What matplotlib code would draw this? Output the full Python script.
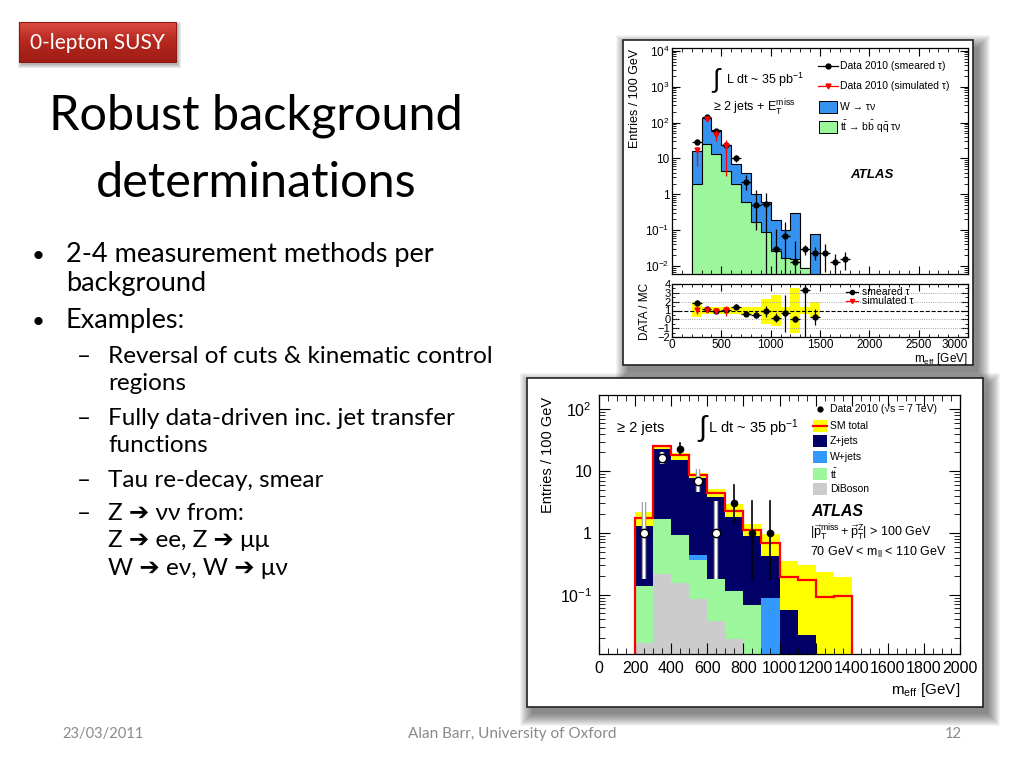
import numpy as np
import matplotlib
matplotlib.use('Agg')
import matplotlib.pyplot as plt
from matplotlib.patches import Rectangle
from matplotlib.colors import LinearSegmentedColormap
from matplotlib.ticker import MultipleLocator, LogLocator, NullFormatter

plt.rcParams['font.family'] = ['Liberation Sans', 'DejaVu Sans']
plt.rcParams['mathtext.fontset'] = 'custom'
plt.rcParams['mathtext.rm'] = 'Liberation Sans'
plt.rcParams['mathtext.it'] = 'Liberation Sans:italic'
plt.rcParams['mathtext.bf'] = 'Liberation Sans:bold'

SLIDE_FONT = ['Lato', 'DejaVu Sans']
W_PX, H_PX = 1024, 768

# ---------------- top plot : tau backgrounds ----------------
tau_edges = [200, 300, 400, 500, 600, 700, 800, 900, 1000, 1100, 1200, 1300, 1400, 1500]
tau_ttbar = [2.0, 26, 13, 4.6, 1.9, 0.6, 0.17, 0.088, 0.026, 0.017, 0.016, 0.009, 0]
tau_wjets = [14, 112, 49, 19.4, 5.1, 3.4, 0.83, 0.51, 0.17, 0.083, 0.28, 0, 0.08]

smear_x = [250, 350, 450, 550, 650, 750, 850, 950, 1050, 1150, 1250, 1350, 1450, 1550, 1650, 1750]
smear_y = [29, 140, 58, 24, 10, 2.2, 0.5, 0.55, 0.03, 0.07, 0.013, 0.03, 0.023, 0.023, 0.013, 0.016]
smear_lo = [24, 128, 50, 20, 8, 1.3, 0.1, 0.001, 0.001, 0.006, 0.001, 0.02, 0.015, 0.007, 0.004, 0.008]
smear_hi = [35, 152, 66, 29, 12.5, 3.4, 1.3, 1.1, 0.11, 0.17, 0.05, 0.038, 0.034, 0.04, 0.022, 0.024]

simul_x = [250, 350, 450, 550]
simul_y = [17, 128, 45, 22]
simul_lo = [6, 115, 30, 3.2]
simul_hi = [21, 140, 62, 32]

ratio_x = [250, 350, 450, 550, 650, 750, 850, 950, 1050, 1150, 1250, 1350, 1450]
ratio_y = [1.9, 1.15, 1.0, 1.1, 1.45, 0.6, 0.5, 0.9, 0.2, 0.7, 0.05, 3.3, 0.3]
ratio_lo = [1.6, 0.95, 0.8, 0.9, 1.2, 0.5, 0.2, 0.3, -0.3, -1.4, -0.25, -2.0, -0.6]
ratio_hi = [2.2, 1.35, 1.2, 1.3, 1.7, 0.7, 0.8, 1.5, 0.7, 2.7, 0.35, 4.0, 1.2]
sim_ratio_y = [1.05, 1.1, 0.9, 1.1]
sim_ratio_lo = [0.6, 0.9, 0.7, 0.4]
sim_ratio_hi = [1.5, 1.3, 1.1, 1.5]
band_lo = [0.3, 0.6, 0.6, 0.6, 0.6, 0.65, 0.65, -0.5, -0.8, 0.6, -1.5, 0.6, 0.3]
band_hi = [2.0, 1.4, 1.4, 1.4, 1.4, 1.35, 1.35, 2.3, 2.8, 1.4, 3.6, 1.4, 2.0]
ratio_ticks = [0, 500, 1000, 1500, 2000, 2500, 3000]

# ---------------- bottom plot : Z -> ll control region ----------------
zll_edges = [200, 300, 400, 500, 600, 700, 800, 900, 1000, 1100, 1200, 1300, 1400]
zll_diboson = [0.0165, 0.22, 0.155, 0.086, 0.037, 0.019, 0, 0, 0, 0, 0, 0]
zll_ttbar = [0.12, 1.47, 0.77, 0.28, 0.14, 0.098, 0.069, 0, 0, 0, 0, 0]
zll_wjets = [0, 0, 0, 0.08, 0, 0, 0, 0.088, 0, 0, 0, 0]
zll_zjets = [1.17, 21, 14.3, 7.15, 3.6, 1.68, 0.83, 0.34, 0.056, 0.022, 0, 0]
zll_sm_total = [1.75, 25, 18, 8.5, 4.4, 2.3, 1.1, 0.69, 0.19, 0.17, 0.092, 0.094]
zll_sm_upper = [2.2, 26.5, 19.3, 9.4, 5.2, 2.9, 1.4, 0.96, 0.35, 0.30, 0.23, 0.19]

zll_data_x = [250, 350, 450, 550, 650, 750, 850, 950]
zll_data_y = [1, 16, 23, 7, 1, 3, 1, 1]
zll_data_lo = [0.18, 12.8, 18.7, 4.6, 0.18, 1.42, 0.18, 0.18]
zll_data_hi = [3.2, 20.4, 28, 10.9, 3.3, 5.9, 3.3, 3.3]
zll_open = [True, True, False, True, True, False, False, False]

# slide text
bullets = [
    (262, 0, '•', '2-4 measurement methods per'),
    (291, 0, None, 'background'),
    (328, 0, '•', 'Examples:'),
    (363, 1, '–', 'Reversal of cuts & kinematic control'),
    (390, 1, None, 'regions'),
    (425, 1, '–', 'Fully data-driven inc. jet transfer'),
    (452, 1, None, 'functions'),
    (487, 1, '–', 'Tau re-decay, smear'),
    (520, 1, '–', 'Z ➔ νν from:'),
    (547, 1, None, 'Z ➔ ee, Z ➔ μμ'),
    (575, 1, None, 'W ➔ eν, W ➔ μν'),
]

BLUE = '#3592ee'
GREEN = '#9cf79c'
NAVY = '#000066'
GREY = '#cccccc'
YELLOW = '#ffff00'


def px_axes(x0, y0, x1, y1):
    return fig.add_axes([x0 / W_PX, 1 - y1 / H_PX, (x1 - x0) / W_PX, (y1 - y0) / H_PX])


def root_ticks(ax, major=6, minor=3):
    ax.tick_params(which='both', direction='in', top=True, right=True)
    ax.tick_params(which='major', length=major, width=0.8)
    ax.tick_params(which='minor', length=minor, width=0.6)
    for s in ax.spines.values():
        s.set_linewidth(0.9)


def shadow(ax, x0, y0, x1, y1, off=(5, 7), spread=13, alpha=0.045):
    for k in range(spread):
        ax.add_patch(Rectangle((x0 + off[0] - k, y0 + off[1] - k), (x1 - x0) + 2 * k, (y1 - y0) + 2 * k,
                               facecolor='black', edgecolor='none', alpha=alpha, zorder=1))


fig = plt.figure(figsize=(10.24, 7.68), dpi=100)

# background layer in pixel coordinates
bg = fig.add_axes([0, 0, 1, 1])
bg.set_xlim(0, W_PX)
bg.set_ylim(H_PX, 0)
bg.axis('off')

shadow(bg, 623, 40, 973, 365)
bg.add_patch(Rectangle((623, 40), 350, 325, facecolor='white', edgecolor='#222222', lw=1.2, zorder=2))
shadow(bg, 527, 378, 983, 707)
bg.add_patch(Rectangle((527, 378), 456, 329, facecolor='white', edgecolor='#222222', lw=1.2, zorder=3))

# red tag
shadow(bg, 19, 22, 176, 62, off=(2, 3), spread=4, alpha=0.08)
red_cm = LinearSegmentedColormap.from_list('tag', ['#dc4b41', '#b3271e', '#a01d15'])
bg.imshow(np.linspace(0, 1, 60).reshape(-1, 1), extent=(19, 176, 62, 22), cmap=red_cm,
          aspect='auto', zorder=4)
bg.add_patch(Rectangle((19, 22), 157, 40, facecolor='none', edgecolor='#8c1a13', lw=0.8, zorder=5))
bg.text(97, 43, '0-lepton SUSY', color='white', fontsize=15, family=SLIDE_FONT,
        ha='center', va='center', zorder=6)

# title
bg.text(256, 130, 'Robust background', fontsize=35, family=SLIDE_FONT, ha='center', va='baseline')
bg.text(256, 197, 'determinations', fontsize=35, family=SLIDE_FONT, ha='center', va='baseline')

# bullets
for y, level, mark, txt in bullets:
    if level == 0:
        if mark:
            bg.text(32, y, mark, fontsize=16, family=SLIDE_FONT, va='baseline')
        bg.text(66, y, txt, fontsize=19.5, family=SLIDE_FONT, va='baseline')
    else:
        if mark:
            bg.text(77, y, mark, fontsize=17.5, family=SLIDE_FONT, va='baseline')
        bg.text(108, y, txt, fontsize=17.5, family=SLIDE_FONT, va='baseline')

# footer
bg.text(62, 738, '23/03/2011', fontsize=10.5, color='#8a8a8a', family=SLIDE_FONT, va='baseline')
bg.text(512, 738, 'Alan Barr, University of Oxford', fontsize=11, color='#8a8a8a',
        family=SLIDE_FONT, ha='center', va='baseline')
bg.text(962, 738, '12', fontsize=10.5, color='#8a8a8a', family=SLIDE_FONT, ha='right', va='baseline')

# ---------------- top plot ----------------
TY0 = 0.006
ax1 = px_axes(672, 48, 968, 274)
tt = np.array(tau_ttbar, dtype=float)
tot = tt + np.array(tau_wjets, dtype=float)
ax1.stairs(np.where(tot > 0, tot, 1e-5), tau_edges, baseline=1e-5, fill=True,
           facecolor=BLUE, edgecolor='black', lw=0.8)
ax1.stairs(np.where(tt > 0, tt, 1e-5), tau_edges, baseline=1e-5, fill=True,
           facecolor=GREEN, edgecolor='black', lw=0.8)
sy = np.array(smear_y)
ax1.errorbar(smear_x, sy, yerr=[sy - np.array(smear_lo), np.array(smear_hi) - sy], xerr=50,
             fmt='o', color='black', ms=3.5, lw=0.9, capsize=0, zorder=5)
ry = np.array(simul_y)
ax1.errorbar(simul_x, ry, yerr=[ry - np.array(simul_lo), np.array(simul_hi) - ry],
             fmt='v', color='red', ms=3.5, lw=0.9, capsize=0, zorder=6)
ax1.set_yscale('log')
ax1.set_xlim(0, 3000)
ax1.set_ylim(TY0, 1.2e4)
ax1.set_yticks([1e-2, 1e-1, 1, 10, 1e2, 1e3, 1e4])
ax1.set_yticklabels(['$10^{-2}$', '$10^{-1}$', '1', '10', '$10^{2}$', '$10^{3}$', '$10^{4}$'])
ax1.yaxis.set_minor_locator(LogLocator(subs=np.arange(2, 10)))
ax1.yaxis.set_minor_formatter(NullFormatter())
ax1.xaxis.set_major_locator(MultipleLocator(500))
ax1.xaxis.set_minor_locator(MultipleLocator(100))
ax1.set_xticklabels([])
root_ticks(ax1, 6, 3)
ax1.tick_params(axis='y', labelsize=8.5, pad=2)

ax2 = px_axes(672, 284, 968, 337)
ax2.stairs(band_hi, tau_edges, baseline=band_lo, fill=True, color=YELLOW, lw=0)
for g in [-1, 0, 2, 3]:
    ax2.axhline(g, color='#888888', ls=':', lw=0.6)
ax2.axhline(1, color='black', ls='--', lw=0.8)
q = np.array(ratio_y)
ax2.errorbar(ratio_x, q, yerr=[q - np.array(ratio_lo), np.array(ratio_hi) - q], xerr=50,
             fmt='o', color='black', ms=3.5, lw=0.9, capsize=0, zorder=5)
q2 = np.array(sim_ratio_y)
ax2.errorbar(ratio_x[:4], q2, yerr=[q2 - np.array(sim_ratio_lo), np.array(sim_ratio_hi) - q2],
             fmt='v', color='red', ms=3.5, lw=0.9, capsize=0, zorder=6)
ax2.set_xlim(0, 3000)
ax2.set_ylim(-2, 4)
ax2.set_yticks([-2, -1, 0, 1, 2, 3, 4])
ax2.set_xticks(ratio_ticks, [str(t) for t in ratio_ticks])
ax2.get_xticklabels()[-1].set_horizontalalignment('right')
ax2.xaxis.set_minor_locator(MultipleLocator(100))
ax2.yaxis.set_minor_locator(MultipleLocator(0.5))
root_ticks(ax2, 5, 2.5)
ax2.tick_params(labelsize=8.5, pad=1.5)
ax2.tick_params(axis='y', labelsize=8, pad=1)

# ---------------- bottom plot ----------------
BY0 = 0.011
ax3 = px_axes(599, 395, 960, 654)
ax3.stairs(zll_sm_upper, zll_edges, baseline=1e-4, fill=True, color=YELLOW, lw=0)
layers = np.cumsum(np.vstack([zll_diboson, zll_ttbar, zll_wjets, zll_zjets]), axis=0)
for row, col in zip(layers[::-1], [NAVY, '#3399ff', GREEN, GREY]):
    ax3.stairs(np.where(row > 0, row, 1e-5), zll_edges, baseline=1e-5, fill=True, color=col, lw=0)
ax3.stairs(zll_sm_total, zll_edges, baseline=1e-4, fill=False, color='red', lw=1.6, zorder=4)
for x, y, lo, hi, op in zip(zll_data_x, zll_data_y, zll_data_lo, zll_data_hi, zll_open):
    if op:
        ax3.plot([x, x], [lo, hi], color='#999999', lw=3.2, zorder=6, solid_capstyle='butt')
        ax3.plot([x, x], [lo, hi], color='white', lw=1.6, zorder=7, solid_capstyle='butt')
        ax3.plot(x, y, 'o', ms=6, mfc='white', mec='black', mew=1.0, zorder=8)
    else:
        ax3.plot([x, x], [lo, hi], color='black', lw=1.2, zorder=6)
        ax3.plot(x, y, 'o', ms=4.5, color='black', zorder=8)
ax3.set_yscale('log')
ax3.set_xlim(0, 2000)
ax3.set_ylim(BY0, 170)
ax3.set_yticks([0.1, 1, 10, 100])
ax3.set_yticklabels(['$10^{-1}$', '1', '10', '$10^{2}$'])
ax3.yaxis.set_minor_locator(LogLocator(subs=np.arange(2, 10)))
ax3.yaxis.set_minor_formatter(NullFormatter())
ax3.xaxis.set_major_locator(MultipleLocator(200))
ax3.xaxis.set_minor_locator(MultipleLocator(50))
root_ticks(ax3, 8, 4)
ax3.tick_params(labelsize=11.5, pad=5)

# ---------------- overlay: labels and legends in pixel coordinates ----------------
ov = fig.add_axes([0, 0, 1, 1], zorder=10)
ov.set_xlim(0, W_PX)
ov.set_ylim(H_PX, 0)
ov.axis('off')
ov.patch.set_alpha(0)

# top plot texts
ov.text(635, 49, 'Entries / 100 GeV', rotation=90, fontsize=9, ha='center', va='top')
ov.text(645, 311, 'DATA / MC', rotation=90, fontsize=8.5, ha='center', va='center')
ov.text(968, 359, r'm$_{\mathrm{eff}}$ [GeV]', fontsize=8.5, ha='right', va='center')
ov.text(716, 80, '∫', fontsize=19, ha='center', va='center')
ov.text(726, 84, r'L dt ~ 35 pb$^{\mathrm{-1}}$', fontsize=9, va='baseline')
ov.text(713, 112, r'≥ 2 jets + E$_{\mathrm{T}}^{\mathrm{miss}}$', fontsize=9, va='baseline')
ov.text(850, 175, 'ATLAS', fontsize=9.5, weight='bold', style='italic', va='center')

ov.plot([818, 838], [66, 66], color='black', lw=0.9)
ov.plot(828, 66, 'o', color='black', ms=3.5)
ov.text(840, 66, 'Data 2010 (smeared τ)', fontsize=7.5, va='center')
ov.plot([818, 838], [86, 86], color='red', lw=0.9)
ov.plot(828, 86, 'v', color='red', ms=3.5)
ov.text(840, 86, 'Data 2010 (simulated τ)', fontsize=7.5, va='center')
ov.add_patch(Rectangle((819, 101), 18, 12, facecolor=BLUE, edgecolor='black', lw=0.7))
ov.text(840, 107, 'W → τν', fontsize=7.5, va='center')
ov.add_patch(Rectangle((819, 121), 18, 12, facecolor=GREEN, edgecolor='black', lw=0.7))
ov.text(840, 127, r'$\mathrm{t\bar{t}}$ → $\mathrm{b\bar{b}}$ $\mathrm{q\bar{q}}$ τν',
        fontsize=7.5, va='center')

ov.plot([846, 858], [292, 292], color='black', lw=0.9)
ov.plot(852, 292, 'o', color='black', ms=3)
ov.text(862, 292, 'smeared τ', fontsize=7.5, va='center')
ov.plot([846, 858], [301, 301], color='red', lw=0.9)
ov.plot(852, 301, 'v', color='red', ms=3)
ov.text(862, 301, 'simulated τ', fontsize=7.5, va='center')

# bottom plot texts
ov.text(548, 397, 'Entries / 100 GeV', rotation=90, fontsize=10.5, ha='center', va='top')
ov.text(960, 690, r'm$_{\mathrm{eff}}$ [GeV]', fontsize=11, ha='right', va='center')
ov.text(617, 428, '≥ 2 jets', fontsize=10.5, va='center')
ov.text(702, 428, '∫', fontsize=21, ha='center', va='center')
ov.text(708, 428, r'L dt ~ 35 pb$^{\mathrm{-1}}$', fontsize=10.5, va='center')

ov.plot(820, 409, 'o', color='black', ms=3.5)
ov.text(830, 409, 'Data 2010 (√s = 7 TeV)', fontsize=7.5, va='center')
ov.add_patch(Rectangle((813, 420), 14, 12, facecolor=YELLOW, edgecolor='none'))
ov.plot([813, 827], [426, 426], color='red', lw=1.6)
ov.text(830, 426, 'SM total', fontsize=7.5, va='center')
for yy, col, lab in [(441, NAVY, 'Z+jets'), (457, '#3399ff', 'W+jets'),
                     (474, GREEN, r'$\mathrm{t\bar{t}}$'), (489, GREY, 'DiBoson')]:
    ov.add_patch(Rectangle((813, yy - 6), 14, 12, facecolor=col, edgecolor='none'))
    ov.text(830, yy, lab, fontsize=7.5, va='center')
ov.text(811, 511, 'ATLAS', fontsize=11.5, weight='bold', style='italic', va='center')
ov.text(810, 533, r'$|\vec{\mathrm{p}}_{\mathrm{T}}^{\mathrm{miss}} + \vec{\mathrm{p}}_{\mathrm{T}}^{\mathrm{Z}}|$ > 100 GeV',
        fontsize=9, va='center')
ov.text(810, 552, r'70 GeV < m$_{\mathrm{ll}}$ < 110 GeV', fontsize=9, va='center')

fig.savefig('out.png', dpi=100)
